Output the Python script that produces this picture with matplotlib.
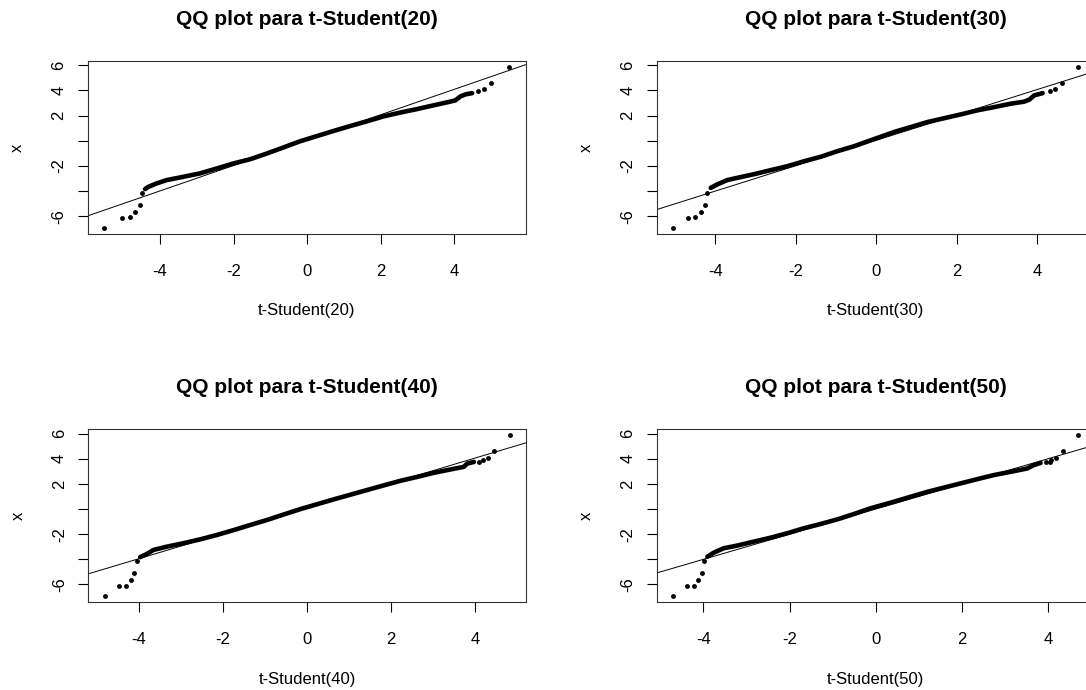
import numpy as np
import matplotlib
matplotlib.use("Agg")
import matplotlib.pyplot as plt

plt.rcParams['font.family'] = ['Liberation Sans', 'DejaVu Sans']
plt.rcParams['axes.unicode_minus'] = False

# grados de libertad de cada panel
dfs = [20, 30, 40, 50]

# cuantiles teoricos / muestrales leidos a lo largo de la nube central
t20_band_x = [-4.41, -4.32, -4.10, -3.82, -3.37, -2.92, -2.46, -2.01, -1.55, -1.10, -0.65, -0.19,
              0.72, 1.17, 1.63, 2.08, 2.53, 2.99, 3.44, 3.81, 4.03, 4.17, 4.31, 4.49]
t20_band_y = [-3.85, -3.67, -3.40, -3.13, -2.87, -2.60, -2.21, -1.81, -1.47, -1.02, -0.54, -0.04,
              0.78, 1.17, 1.55, 1.94, 2.24, 2.52, 2.82, 3.06, 3.21, 3.53, 3.69, 3.79]
t20_dots_x = [-5.52, -5.03, -4.82, -4.69, -4.55, -4.48, 4.64, 4.80, 5.01, 5.50]
t20_dots_y = [-6.91, -6.16, -6.10, -5.65, -5.10, -4.17, 3.95, 4.08, 4.60, 5.86]

t30_band_x = [-4.11, -3.95, -3.70, -3.45, -3.03, -2.62, -2.20, -1.79, -1.38, -0.96, -0.55, -0.13,
              0.45, 1.28, 2.11, 2.52, 2.94, 3.35, 3.68, 3.81, 3.93, 4.14]
t30_band_y = [-3.75, -3.48, -3.13, -2.95, -2.66, -2.34, -2.02, -1.63, -1.28, -0.83, -0.44, 0.04,
              0.70, 1.49, 2.10, 2.42, 2.68, 2.95, 3.11, 3.27, 3.61, 3.79]
t30_dots_x = [-5.05, -4.67, -4.49, -4.36, -4.26, -4.21, 4.32, 4.44, 4.62, 5.02]
t30_dots_y = [-6.91, -6.16, -6.10, -5.65, -5.10, -4.17, 3.93, 4.08, 4.60, 5.86]

t40_band_x = [-3.97, -3.81, -3.65, -3.33, -2.94, -2.54, -2.14, -1.74, -1.35, -0.95, -0.55, -0.15,
              0.64, 1.43, 2.23, 2.63, 3.02, 3.42, 3.74, 3.82, 3.98]
t40_band_y = [-3.83, -3.57, -3.25, -2.99, -2.72, -2.41, -2.06, -1.67, -1.27, -0.87, -0.43, 0.00,
              0.77, 1.51, 2.25, 2.56, 2.88, 3.15, 3.36, 3.62, 3.75]
t40_dots_x = [-4.82, -4.47, -4.30, -4.19, -4.12, -4.05, 4.11, 4.20, 4.31, 4.46, 4.83]
t40_dots_y = [-6.91, -6.16, -6.10, -5.65, -5.10, -4.17, 3.75, 3.89, 4.05, 4.60, 5.86]

t50_band_x = [-3.91, -3.76, -3.53, -3.22, -2.83, -2.44, -2.06, -1.67, -1.28, -0.89, -0.51, -0.12,
              0.42, 1.20, 1.97, 2.36, 2.74, 3.13, 3.52, 3.67, 3.83]
t50_band_y = [-3.79, -3.47, -3.12, -2.91, -2.59, -2.28, -1.93, -1.53, -1.19, -0.82, -0.40, 0.06,
              0.58, 1.37, 2.04, 2.38, 2.70, 2.96, 3.23, 3.49, 3.67]
t50_dots_x = [-4.71, -4.38, -4.23, -4.12, -4.04, -3.98, 3.95, 4.04, 4.08, 4.20, 4.35, 4.70]
t50_dots_y = [-6.91, -6.16, -6.10, -5.65, -5.10, -4.17, 3.75, 3.71, 3.94, 4.07, 4.60, 5.86]

# recta qqline (intercepto, pendiente)
line_intercepts = [0.05, 0.03, 0.05, 0.00]
line_slopes = [1.01, 1.01, 1.00, 1.00]

x_ticks = [-4, -2, 0, 2, 4]
y_ticks = [-6, -4, -2, 0, 2, 4, 6]
y_ticklabels = ['-6', '', '-2', '', '2', '4', '6']

bands = [(t20_band_x, t20_band_y), (t30_band_x, t30_band_y),
         (t40_band_x, t40_band_y), (t50_band_x, t50_band_y)]
dots = [(t20_dots_x, t20_dots_y), (t30_dots_x, t30_dots_y),
        (t40_dots_x, t40_dots_y), (t50_dots_x, t50_dots_y)]

W, H = 1086, 690
fig = plt.figure(figsize=(W / 100, H / 100), dpi=100)

# cajas en pixeles: izquierda, arriba; la columna derecha se sale del lienzo
boxes = [(88, 60.7), (656.7, 60.7), (88.3, 429), (656.7, 429)]
bw, bh = 437.5, 173.3


def r_lim(v):
    lo, hi = min(v), max(v)
    pad = 0.04 * (hi - lo)
    return lo - pad, hi + pad


for i, df in enumerate(dfs):
    left, top = boxes[i]
    ax = fig.add_axes([left / W, 1 - (top + bh) / H, bw / W, bh / H])
    bx, by = bands[i]
    dx, dy = dots[i]

    ax.plot(bx, by, color='black', lw=3.3, solid_capstyle='round',
            solid_joinstyle='round', zorder=2)
    ax.plot(dx, dy, 'o', color='black', ms=3.5, mew=0, zorder=2)
    ax.axline((0, line_intercepts[i]), slope=line_slopes[i], color='black', lw=0.7, zorder=1)

    ax.set_xlim(r_lim(bx + dx))
    ax.set_ylim(r_lim(by + dy))

    ax.set_xticks(x_ticks)
    ax.set_yticks(y_ticks, y_ticklabels, rotation=90, va='center')
    ax.tick_params(axis='both', length=7.2, width=0.8, labelsize=12, direction='out')
    ax.tick_params(axis='x', pad=14.5)
    ax.tick_params(axis='y', pad=8.3)
    for s in ax.spines.values():
        s.set_linewidth(0.8)
        s.set_color('#333333')

    ax.set_title('QQ plot para t-Student(%d)' % df, fontsize=15, fontweight='bold', pad=26)
    ax.set_xlabel('t-Student(%d)' % df, fontsize=12)
    ax.xaxis.set_label_coords(0.5, -0.40)
    ax.set_ylabel('x', fontsize=12)
    ax.yaxis.set_label_coords(-0.1435, 0.5)

fig.savefig('out.png', dpi=100)
